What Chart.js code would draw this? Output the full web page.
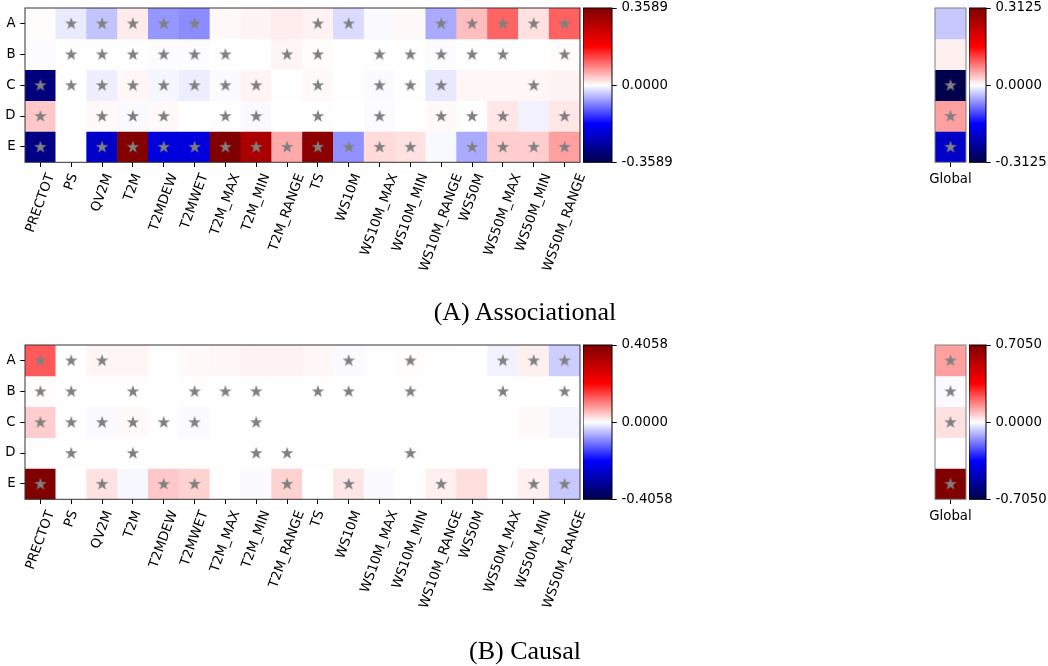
<!DOCTYPE html>
<html>
<head>
<meta charset="utf-8">
<script src="https://cdn.jsdelivr.net/npm/chart.js@4/dist/chart.umd.min.js"></script>
<style>
body { margin: 0; background: #fff; }
#page { position: relative; width: 1048px; height: 666px; overflow: hidden; background: #fff; }
canvas { position: absolute; }
.caption { position: absolute; left: 0; width: 1050px; text-align: center; line-height: 30px;
           font-family: "Liberation Serif", "Times New Roman", serif; font-size: 26px; color: #000; }
</style>
</head>
<body>
<div id="page">
  <canvas id="assocHeat" width="610" height="300" style="left:0px;top:0px"></canvas>
  <canvas id="assocBar" width="100" height="180" style="left:583px;top:0px"></canvas>
  <canvas id="assocGlobal" width="100" height="200" style="left:900px;top:0px"></canvas>
  <canvas id="assocGlobalBar" width="79" height="180" style="left:969px;top:0px"></canvas>

  <canvas id="causalHeat" width="610" height="300" style="left:0px;top:337px"></canvas>
  <canvas id="causalBar" width="100" height="180" style="left:583px;top:337px"></canvas>
  <canvas id="causalGlobal" width="100" height="200" style="left:900px;top:337px"></canvas>
  <canvas id="causalGlobalBar" width="79" height="180" style="left:969px;top:337px"></canvas>

  <div class="caption" style="top:297px">(A) Associational</div>
  <div class="caption" style="top:636px">(B) Causal</div>
</div>
<script>
// data
const variables = ['PRECTOT', 'PS', 'QV2M', 'T2M', 'T2MDEW', 'T2MWET', 'T2M_MAX', 'T2M_MIN', 'T2M_RANGE',
    'TS', 'WS10M', 'WS10M_MAX', 'WS10M_MIN', 'WS10M_RANGE', 'WS50M', 'WS50M_MAX', 'WS50M_MIN', 'WS50M_RANGE'];
const regions = ['A', 'B', 'C', 'D', 'E'];

// (A) Associational
const assocMax = 0.3589;
const assocValues = [
    [0.002, -0.014, -0.042, 0.014, -0.074, -0.081, 0.005, 0.008, 0.013, 0.009, -0.025, -0.003, 0.004, -0.060, 0.046, 0.109, 0.021, 0.112],
    [-0.002, 0.001, -0.001, 0.001, -0.002, -0.002, -0.001, 0.000, 0.007, 0.002, 0.000, 0.001, -0.001, -0.002, 0.000, 0.001, 0.000, 0.002],
    [-0.310, 0.000, -0.012, 0.006, -0.006, -0.013, -0.003, 0.008, 0.001, 0.004, 0.001, -0.003, -0.001, -0.016, 0.006, 0.006, 0.006, 0.008],
    [0.039, 0.000, 0.004, -0.004, 0.004, 0.000, -0.001, -0.004, 0.000, 0.001, 0.000, -0.002, 0.000, 0.004, 0.001, 0.017, -0.010, 0.017],
    [-0.300, 0.000, -0.235, 0.355, -0.215, -0.215, 0.3589, 0.299, 0.060, 0.342, -0.077, 0.025, 0.021, -0.005, -0.060, 0.035, 0.035, 0.067]
];
const assocStars = [
    [0, 1, 1, 1, 1, 1, 0, 0, 0, 1, 1, 0, 0, 1, 1, 1, 1, 1],
    [0, 1, 1, 1, 1, 1, 1, 0, 1, 1, 0, 1, 1, 1, 1, 1, 0, 1],
    [1, 1, 1, 1, 1, 1, 1, 1, 0, 1, 0, 1, 1, 1, 0, 0, 1, 0],
    [1, 0, 1, 1, 1, 0, 1, 1, 0, 1, 0, 1, 0, 1, 1, 1, 0, 1],
    [1, 0, 1, 1, 1, 1, 1, 1, 1, 1, 1, 1, 1, 0, 1, 1, 1, 1]
];
const assocGlobalMax = 0.3125;
const assocGlobal = [-0.034, 0.009, -0.3125, 0.058, -0.205];
const assocGlobalStars = [0, 0, 1, 1, 1];

// (B) Causal
const causalMax = 0.4058;
const causalValues = [
    [0.132, 0.000, 0.008, 0.008, 0.001, 0.005, 0.007, 0.010, 0.010, 0.007, -0.003, 0.001, 0.002, 0.001, 0.000, -0.010, 0.012, -0.040],
    [0.002, 0.001, 0.001, 0.001, 0.000, 0.001, 0.001, -0.001, 0.001, 0.001, -0.001, 0.001, 0.001, 0.001, 0.001, 0.001, 0.001, 0.000],
    [0.040, 0.001, -0.004, 0.004, 0.001, -0.004, 0.001, 0.001, 0.001, 0.001, 0.001, 0.001, 0.001, 0.001, 0.001, 0.001, 0.004, -0.008],
    [-0.001, 0.001, 0.001, 0.001, 0.001, 0.001, 0.001, 0.001, 0.001, 0.001, -0.001, 0.001, 0.001, -0.001, -0.001, -0.001, 0.001, -0.001],
    [0.4058, 0.000, 0.024, -0.006, 0.044, 0.036, 0.001, -0.004, 0.036, 0.000, 0.020, -0.004, 0.001, 0.012, 0.026, 0.001, 0.012, -0.044]
];
const causalStars = [
    [1, 1, 1, 0, 0, 0, 0, 0, 0, 0, 1, 0, 1, 0, 0, 1, 1, 1],
    [1, 1, 0, 1, 0, 1, 1, 1, 0, 1, 1, 0, 1, 0, 0, 1, 0, 1],
    [1, 1, 1, 1, 1, 1, 0, 1, 0, 0, 0, 0, 0, 0, 0, 0, 0, 0],
    [0, 1, 0, 1, 0, 0, 0, 1, 1, 0, 0, 0, 1, 0, 0, 0, 0, 0],
    [1, 0, 1, 0, 1, 1, 0, 0, 1, 0, 1, 0, 0, 1, 0, 0, 1, 1]
];
const causalGlobalMax = 0.7050;
const causalGlobal = [0.131, -0.005, 0.042, -0.002, 0.705];
const causalGlobalStars = [1, 1, 1, 0, 1];

Chart.defaults.font.family = '"DejaVu Sans", sans-serif';
Chart.defaults.font.size = 13.3;
Chart.defaults.color = '#000';

// matplotlib "seismic" colormap
const seismicStops = [[0, 0, 0.3], [0, 0, 1], [1, 1, 1], [1, 0, 0], [0.5, 0, 0]];
function seismic(t) {
    t = Math.max(0, Math.min(1, t));
    const s = t * 4;
    const i = Math.min(3, Math.floor(s));
    const f = s - i;
    const a = seismicStops[i], b = seismicStops[i + 1];
    const c = [0, 1, 2].map(k => Math.round(255 * (a[k] + (b[k] - a[k]) * f)));
    return 'rgb(' + c.join(',') + ')';
}

// grey star marker
const starImg = document.createElement('canvas');
starImg.width = 16;
starImg.height = 16;
const sctx = starImg.getContext('2d');
sctx.fillStyle = '#808080';
sctx.beginPath();
for (let k = 0; k < 10; k++) {
    const r = k % 2 === 0 ? 6.6 : 2.6;
    const a = -Math.PI / 2 + k * Math.PI / 5;
    if (k === 0) sctx.moveTo(8 + r * Math.cos(a), 8.3 + r * Math.sin(a));
    else sctx.lineTo(8 + r * Math.cos(a), 8.3 + r * Math.sin(a));
}
sctx.closePath();
sctx.fill();

// frame around the plot area
function framePlugin(color) {
    return {
        id: 'frame',
        afterDraw(chart) {
            const a = chart.chartArea;
            const ctx = chart.ctx;
            ctx.save();
            ctx.strokeStyle = color;
            ctx.lineWidth = 1;
            ctx.strokeRect(a.left, a.top, a.right - a.left, a.bottom - a.top);
            ctx.restore();
        }
    };
}

// x tick labels placed like matplotlib (rotated box centred under the tick)
function xLabelPlugin(labels, angle) {
    return {
        id: 'xLabels',
        afterDraw(chart) {
            const ctx = chart.ctx;
            const xs = chart.scales.x;
            const rad = angle * Math.PI / 180;
            ctx.save();
            ctx.font = '13.3px "DejaVu Sans"';
            ctx.fillStyle = '#000';
            ctx.textAlign = 'center';
            ctx.textBaseline = 'middle';
            labels.forEach((lab, i) => {
                const w = ctx.measureText(lab).width;
                const h = 15.5;
                const boxH = w * Math.sin(rad) + h * Math.cos(rad);
                const x = xs.getPixelForTick(i);
                const y = chart.chartArea.bottom + 9.3 + boxH / 2;
                ctx.save();
                ctx.translate(x, y);
                ctx.rotate(-rad);
                ctx.fillText(lab, 0, 0);
                ctx.restore();
            });
            ctx.restore();
        }
    };
}

const tickGrid = { drawOnChartArea: false, tickLength: 4.7, color: '#000', offset: false };

function heatmap(id, labels, values, stars, vmax, opts) {
    const datasets = values.map((row, r) => ({
        type: 'bar',
        data: row.map(() => [r, r + 1]),
        backgroundColor: row.map(v => seismic((v + vmax) / (2 * vmax))),
        borderWidth: 0,
        grouped: false,
        barPercentage: 1,
        categoryPercentage: 1,
        order: 2
    }));
    const starPoints = [];
    stars.forEach((row, r) => row.forEach((s, c) => {
        if (s) starPoints.push({ x: labels[c], y: r + 0.5 });
    }));
    datasets.push({
        type: 'scatter',
        data: starPoints,
        pointStyle: starImg,
        order: 1
    });

    new Chart(document.getElementById(id), {
        type: 'bar',
        data: { labels: labels, datasets: datasets },
        options: {
            responsive: false,
            animation: false,
            events: [],
            layout: { padding: { top: 8, right: opts.right, left: opts.left, bottom: 0 } },
            plugins: { legend: { display: false }, tooltip: { enabled: false } },
            scales: {
                x: {
                    type: 'category',
                    offset: true,
                    grid: tickGrid,
                    border: { display: false },
                    ticks: { display: false },
                    afterFit: s => { s.height = opts.xHeight; s.paddingLeft = 0; s.paddingRight = 0; }
                },
                y: {
                    type: 'linear',
                    display: opts.showY,
                    min: 0,
                    max: 5,
                    reverse: true,
                    grid: tickGrid,
                    border: { display: false },
                    ticks: { padding: 4.7, callback: v => regions[Math.floor(v)] },
                    afterBuildTicks: s => { s.ticks = regions.map((r, i) => ({ value: i + 0.5 })); },
                    afterFit: s => { s.width = opts.showY ? 25 : 0; s.paddingTop = 0; s.paddingBottom = 0; }
                }
            }
        },
        plugins: [framePlugin(opts.frame), xLabelPlugin(labels, opts.angle)]
    });
}

function colorbar(id, vmax, barWidth, canvasWidth) {
    new Chart(document.getElementById(id), {
        type: 'bar',
        data: {
            labels: [''],
            datasets: [{
                data: [[-vmax, vmax]],
                borderWidth: 0,
                barPercentage: 1,
                categoryPercentage: 1,
                backgroundColor: ctx => {
                    const a = ctx.chart.chartArea;
                    if (!a) return '#fff';
                    const g = ctx.chart.ctx.createLinearGradient(0, a.bottom, 0, a.top);
                    for (let k = 0; k <= 20; k++) g.addColorStop(k / 20, seismic(k / 20));
                    return g;
                }
            }]
        },
        options: {
            responsive: false,
            animation: false,
            events: [],
            layout: { padding: { top: 8, bottom: 17.7, left: 0, right: 0 } },
            plugins: { legend: { display: false }, tooltip: { enabled: false } },
            scales: {
                x: { display: false, offset: true },
                y: {
                    position: 'right',
                    min: -vmax,
                    max: vmax,
                    grid: { drawOnChartArea: false, tickLength: 4.7, color: '#000' },
                    border: { display: false },
                    ticks: { padding: 4.7, callback: v => v.toFixed(4) },
                    afterBuildTicks: s => { s.ticks = [-vmax, 0, vmax].map(v => ({ value: v })); },
                    afterFit: s => { s.width = canvasWidth - barWidth; s.paddingTop = 0; s.paddingBottom = 0; }
                }
            }
        },
        plugins: [framePlugin('#000')]
    });
}

// (A) Associational
heatmap('assocHeat', variables, assocValues, assocStars, assocMax,
    { left: 0, right: 30, xHeight: 137.7, showY: true, frame: '#333', angle: 70 });
colorbar('assocBar', assocMax, 29, 100);
heatmap('assocGlobal', ['Global'], assocGlobal.map(v => [v]), assocGlobalStars.map(s => [s]), assocGlobalMax,
    { left: 35, right: 34, xHeight: 37.7, showY: false, frame: '#808080', angle: 0 });
colorbar('assocGlobalBar', assocGlobalMax, 17, 79);

// (B) Causal
heatmap('causalHeat', variables, causalValues, causalStars, causalMax,
    { left: 0, right: 30, xHeight: 137.7, showY: true, frame: '#333', angle: 70 });
colorbar('causalBar', causalMax, 29, 100);
heatmap('causalGlobal', ['Global'], causalGlobal.map(v => [v]), causalGlobalStars.map(s => [s]), causalGlobalMax,
    { left: 35, right: 34, xHeight: 37.7, showY: false, frame: '#808080', angle: 0 });
colorbar('causalGlobalBar', causalGlobalMax, 17, 79);
</script>
</body>
</html>
